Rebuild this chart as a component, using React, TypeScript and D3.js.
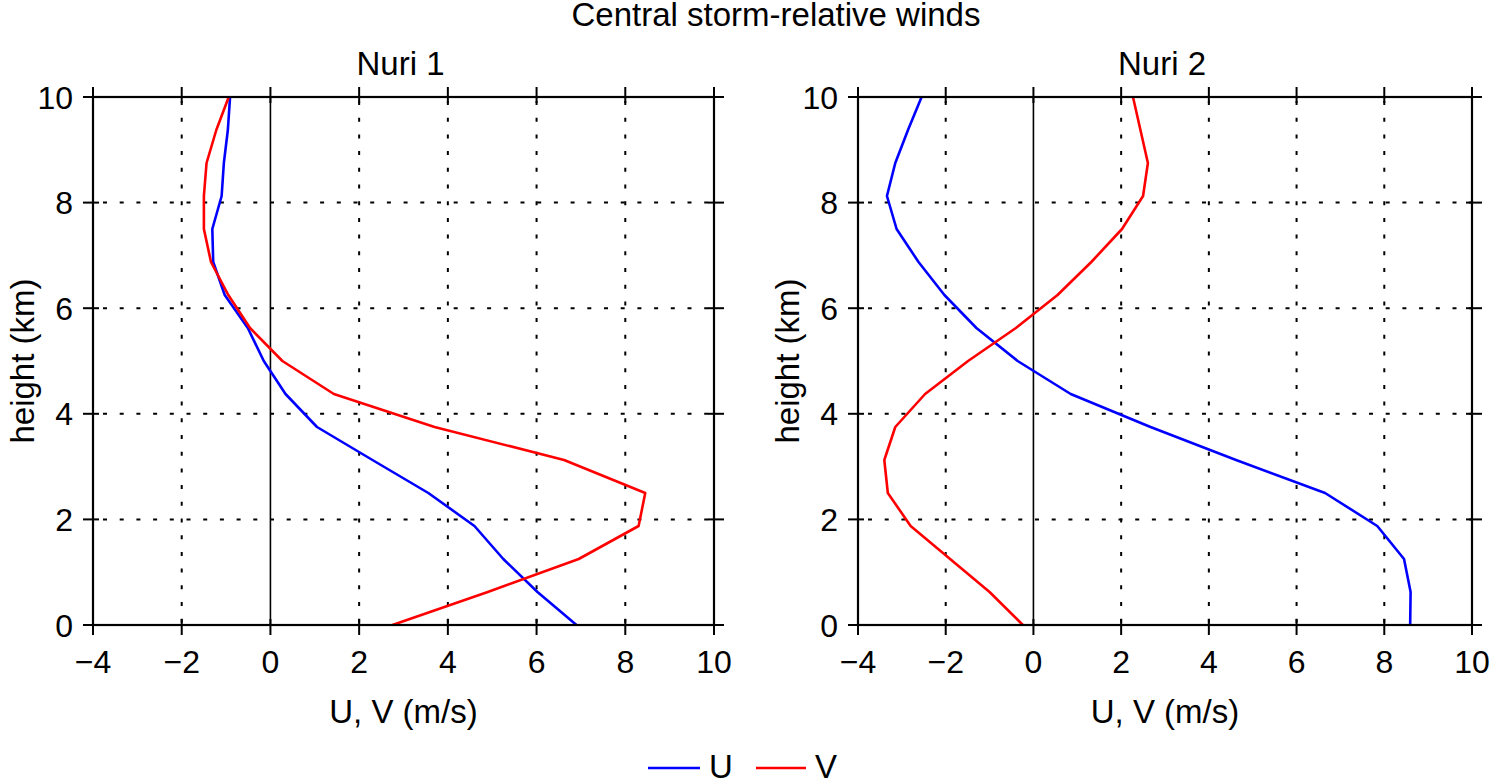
import React from 'react';
import * as d3 from 'd3';

// heights (km), bottom to top
const heights = [0, 0.625, 1.25, 1.875, 2.5, 3.125, 3.75, 4.375, 5, 5.625, 6.25, 6.875, 7.5, 8.125, 8.75, 9.375, 10];

// Nuri 1 storm-relative winds (m/s)
const nuri1U = [6.9, 6.02, 5.25, 4.6, 3.56, 2.3, 1.05, 0.34, -0.15, -0.51, -1.03, -1.29, -1.31, -1.1, -1.05, -0.96, -0.91];
const nuri1V = [2.75, 4.9, 6.95, 8.3, 8.45, 6.62, 3.7, 1.43, 0.27, -0.46, -0.95, -1.34, -1.5, -1.5, -1.44, -1.22, -0.94];

// Nuri 2 storm-relative winds (m/s)
const nuri2U = [8.59, 8.6, 8.45, 7.84, 6.65, 4.62, 2.67, 0.85, -0.36, -1.3, -2.03, -2.62, -3.12, -3.34, -3.15, -2.86, -2.55];
const nuri2V = [-0.24, -1.0, -1.9, -2.8, -3.32, -3.4, -3.15, -2.47, -1.49, -0.4, 0.55, 1.32, 2.02, 2.5, 2.61, 2.44, 2.27];

const xTicks = [-4, -2, 0, 2, 4, 6, 8, 10];
const yTicks = [0, 2, 4, 6, 8, 10];

const FONT = '"Liberation Sans", Arial, Helvetica, sans-serif';
const FS_TICK = 32;
const FS = 33;

interface PanelProps {
    title: string;
    left: number;
    right: number;
    u: number[];
    v: number[];
}

const top = 97;
const bottom = 625;

const Panel: React.FC<PanelProps> = ({ title, left, right, u, v }) => {
    const x = d3.scaleLinear().domain([-4, 10]).range([left, right]);
    const y = d3.scaleLinear().domain([0, 10]).range([bottom, top]);

    const line = d3
        .line<number>()
        .x((d) => x(d))
        .y((_, i) => y(heights[i]));

    const cx = (left + right) / 2;

    return (
        <g>
            {/* dotted grid */}
            {xTicks
                .filter((t) => t !== 0 && t !== -4 && t !== 10)
                .map((t) => (
                    <line key={'gx' + t} x1={x(t)} x2={x(t)} y1={y(10)} y2={y(0)}
                        stroke="#000" strokeWidth={2} strokeDasharray="4,12.7" strokeDashoffset={-4} />
                ))}
            {yTicks
                .filter((t) => t !== 0 && t !== 10)
                .map((t) => (
                    <line key={'gy' + t} x1={x(-4)} x2={x(10)} y1={y(t)} y2={y(t)}
                        stroke="#000" strokeWidth={2} strokeDasharray="4,12.7" strokeDashoffset={-10} />
                ))}
            {/* zero line */}
            <line x1={x(0)} x2={x(0)} y1={y(10)} y2={y(0)} stroke="#000" strokeWidth={1.6} />

            {/* curves */}
            <path d={line(u) || ''} fill="none" stroke="#0000ff" strokeWidth={2.6} strokeLinejoin="round" />
            <path d={line(v) || ''} fill="none" stroke="#ff0000" strokeWidth={2.6} strokeLinejoin="round" />

            {/* frame */}
            <rect x={x(-4)} y={y(10)} width={x(10) - x(-4)} height={y(0) - y(10)}
                fill="none" stroke="#000" strokeWidth={2.2} />

            {/* ticks, both directions */}
            {xTicks.map((t) => (
                <g key={'tx' + t}>
                    <line x1={x(t)} x2={x(t)} y1={y(0) - 6} y2={y(0) + 10} stroke="#000" strokeWidth={2} />
                    <line x1={x(t)} x2={x(t)} y1={y(10) - 10} y2={y(10) + 6} stroke="#000" strokeWidth={2} />
                    <text x={x(t)} y={y(0) + 48} textAnchor="middle" fontSize={FS_TICK} fontFamily={FONT}>
                        {t < 0 ? '\u2212' + Math.abs(t) : t}
                    </text>
                </g>
            ))}
            {yTicks.map((t) => (
                <g key={'ty' + t}>
                    <line x1={x(-4) - 10} x2={x(-4) + 6} y1={y(t)} y2={y(t)} stroke="#000" strokeWidth={2} />
                    <line x1={x(10) - 6} x2={x(10) + 10} y1={y(t)} y2={y(t)} stroke="#000" strokeWidth={2} />
                    <text x={x(-4) - 20} y={y(t)} dy="0.36em" textAnchor="end" fontSize={FS_TICK} fontFamily={FONT}>
                        {t}
                    </text>
                </g>
            ))}

            {/* labels */}
            <text x={cx - 3} y={top - 22} textAnchor="middle" fontSize={FS} fontFamily={FONT}>{title}</text>
            <text x={cx} y={723} textAnchor="middle" fontSize={FS} fontFamily={FONT}>U, V (m/s)</text>
            <text transform={`translate(${left - 59},${(top + bottom) / 2}) rotate(-90)`}
                textAnchor="middle" fontSize={FS} fontFamily={FONT}>height (km)</text>
        </g>
    );
};

const App: React.FC = () => {
    return (
        <svg width={1491} height={780} style={{ position: 'absolute', left: 0, top: 0, background: '#fff' }}>
            <text x={776} y={26} textAnchor="middle" fontSize={FS} fontFamily={FONT}>
                Central storm-relative winds
            </text>
            <Panel title="Nuri 1" left={93} right={714} u={nuri1U} v={nuri1V} />
            <Panel title="Nuri 2" left={858} right={1472} u={nuri2U} v={nuri2V} />

            {/* legend */}
            <line x1={648} x2={700} y1={768} y2={768} stroke="#0000ff" strokeWidth={2.6} />
            <text x={709} y={778} fontSize={FS} fontFamily={FONT}>U</text>
            <line x1={756} x2={806} y1={768} y2={768} stroke="#ff0000" strokeWidth={2.6} />
            <text x={815} y={778} fontSize={FS} fontFamily={FONT}>V</text>
        </svg>
    );
};

export default App;
